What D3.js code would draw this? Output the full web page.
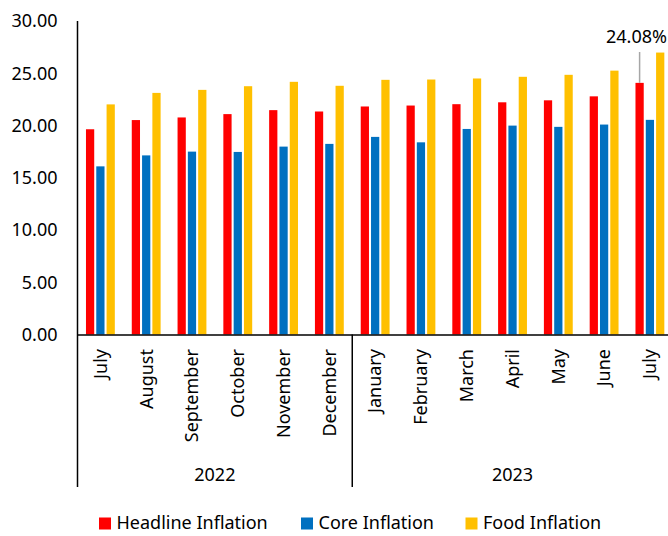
<!DOCTYPE html>
<html>
<head>
<meta charset="utf-8">
<script src="https://cdn.jsdelivr.net/npm/d3@7"></script>
<style>
  html, body { margin: 0; padding: 0; background: #fff; }
  svg { display: block; font-family: "Noto Sans", "Open Sans", sans-serif; }
</style>
</head>
<body>
<svg id="chart" width="668" height="536"></svg>
<script>
// Monthly inflation rates (%), July 2022 – July 2023
const months = ["July", "August", "September", "October", "November", "December",
                "January", "February", "March", "April", "May", "June", "July"];
const monthKeys = months.map((m, i) => i + ":" + m);
const years = [
  { label: "2022", from: 0, to: 5 },
  { label: "2023", from: 6, to: 12 }
];
const headline = [19.64, 20.52, 20.77, 21.09, 21.47, 21.34, 21.82, 21.91, 22.04, 22.22, 22.41, 22.79, 24.08];
const core     = [16.09, 17.14, 17.50, 17.47, 17.98, 18.24, 18.91, 18.39, 19.67, 19.99, 19.87, 20.09, 20.54];
const food     = [22.02, 23.12, 23.41, 23.76, 24.18, 23.80, 24.37, 24.40, 24.50, 24.66, 24.85, 25.25, 26.98];
const seriesNames = ["Headline Inflation", "Core Inflation", "Food Inflation"];
const seriesValues = [headline, core, food];
const seriesColors = ["#FF0000", "#0070C0", "#FFC000"];
const yTicks = [0, 5, 10, 15, 20, 25, 30];

const svg = d3.select("#chart");
const plotLeft = 77.5, plotRight = 672.8, plotTop = 21, plotBottom = 334.5;
const axisFoot = 487;

const x = d3.scaleBand().domain(monthKeys).range([plotLeft, plotRight])
  .paddingInner(0.37).paddingOuter(0.185);
const xs = d3.scaleBand().domain(d3.range(seriesNames.length)).range([0, x.bandwidth()])
  .paddingInner(0.2);
const y = d3.scaleLinear().domain([0, 30]).range([plotBottom, plotTop]);

// Bars
const g = svg.append("g");
seriesValues.forEach((vals, si) => {
  g.selectAll(null).data(vals).join("rect")
    .attr("x", (d, i) => x(monthKeys[i]) + xs(si))
    .attr("y", d => y(d))
    .attr("width", xs.bandwidth())
    .attr("height", d => y(0) - y(d))
    .attr("fill", seriesColors[si]);
});

// Y axis
const yAxis = d3.axisLeft(y).tickValues(yTicks).tickFormat(d3.format(".2f")).tickSize(0).tickPadding(20);
const ya = svg.append("g").attr("transform", `translate(${plotLeft},0)`).call(yAxis);
ya.select(".domain").remove();
ya.selectAll("text").attr("font-size", 18).attr("fill", "#000")
  .attr("font-family", "'Noto Sans', 'Open Sans', sans-serif");
svg.append("line").attr("x1", plotLeft).attr("x2", plotLeft).attr("y1", plotTop).attr("y2", axisFoot)
  .attr("stroke", "#000").attr("stroke-width", 1.5);

// X axis baseline
svg.append("line").attr("x1", plotLeft).attr("x2", 668).attr("y1", plotBottom + 0.5).attr("y2", plotBottom + 0.5)
  .attr("stroke", "#000").attr("stroke-width", 1.5);

// Month labels (rotated)
svg.append("g").selectAll("text").data(monthKeys).join("text")
  .attr("transform", d => `translate(${x(d) + x.bandwidth() / 2},349) rotate(-90)`)
  .attr("text-anchor", "end")
  .attr("dy", "0.35em")
  .attr("font-size", 18)
  .attr("fill", "#000")
  .text(d => d.split(":")[1]);

// Year groups: dividers and labels
const step = x.step();
years.forEach(yr => {
  const x0 = x(monthKeys[yr.from]) - x.paddingOuter() * step;
  const x1 = x(monthKeys[yr.to]) + x.bandwidth() + x.paddingOuter() * step;
  if (yr.from > 0) {
    svg.append("line").attr("x1", x0).attr("x2", x0).attr("y1", plotBottom).attr("y2", axisFoot)
      .attr("stroke", "#000").attr("stroke-width", 1.5);
  }
  svg.append("text").attr("x", (x0 + x1) / 2).attr("y", 481)
    .attr("text-anchor", "middle").attr("font-size", 18).attr("fill", "#000")
    .text(yr.label);
});

// Data label for the latest headline value, with a leader line down to its bar
const last = monthKeys.length - 1;
const lx = x(monthKeys[last]) + xs(0) + xs.bandwidth() / 2;
svg.append("line").attr("x1", lx).attr("x2", lx).attr("y1", 52).attr("y2", y(headline[last]))
  .attr("stroke", "#A6A6A6").attr("stroke-width", 1.5);
svg.append("text").attr("x", 667).attr("y", 43).attr("text-anchor", "end")
  .attr("font-size", 18).attr("fill", "#000")
  .text(d3.format(".2f")(headline[last]) + "%");

// Legend
const legendX = [99, 301, 465.5];
const lg = svg.append("g");
seriesNames.forEach((name, i) => {
  lg.append("rect").attr("x", legendX[i]).attr("y", 517.5).attr("width", 12).attr("height", 12)
    .attr("fill", seriesColors[i]);
  lg.append("text").attr("x", legendX[i] + 17.5).attr("y", 529).attr("font-size", 18).attr("fill", "#000")
    .text(name);
});
</script>
</body>
</html>
